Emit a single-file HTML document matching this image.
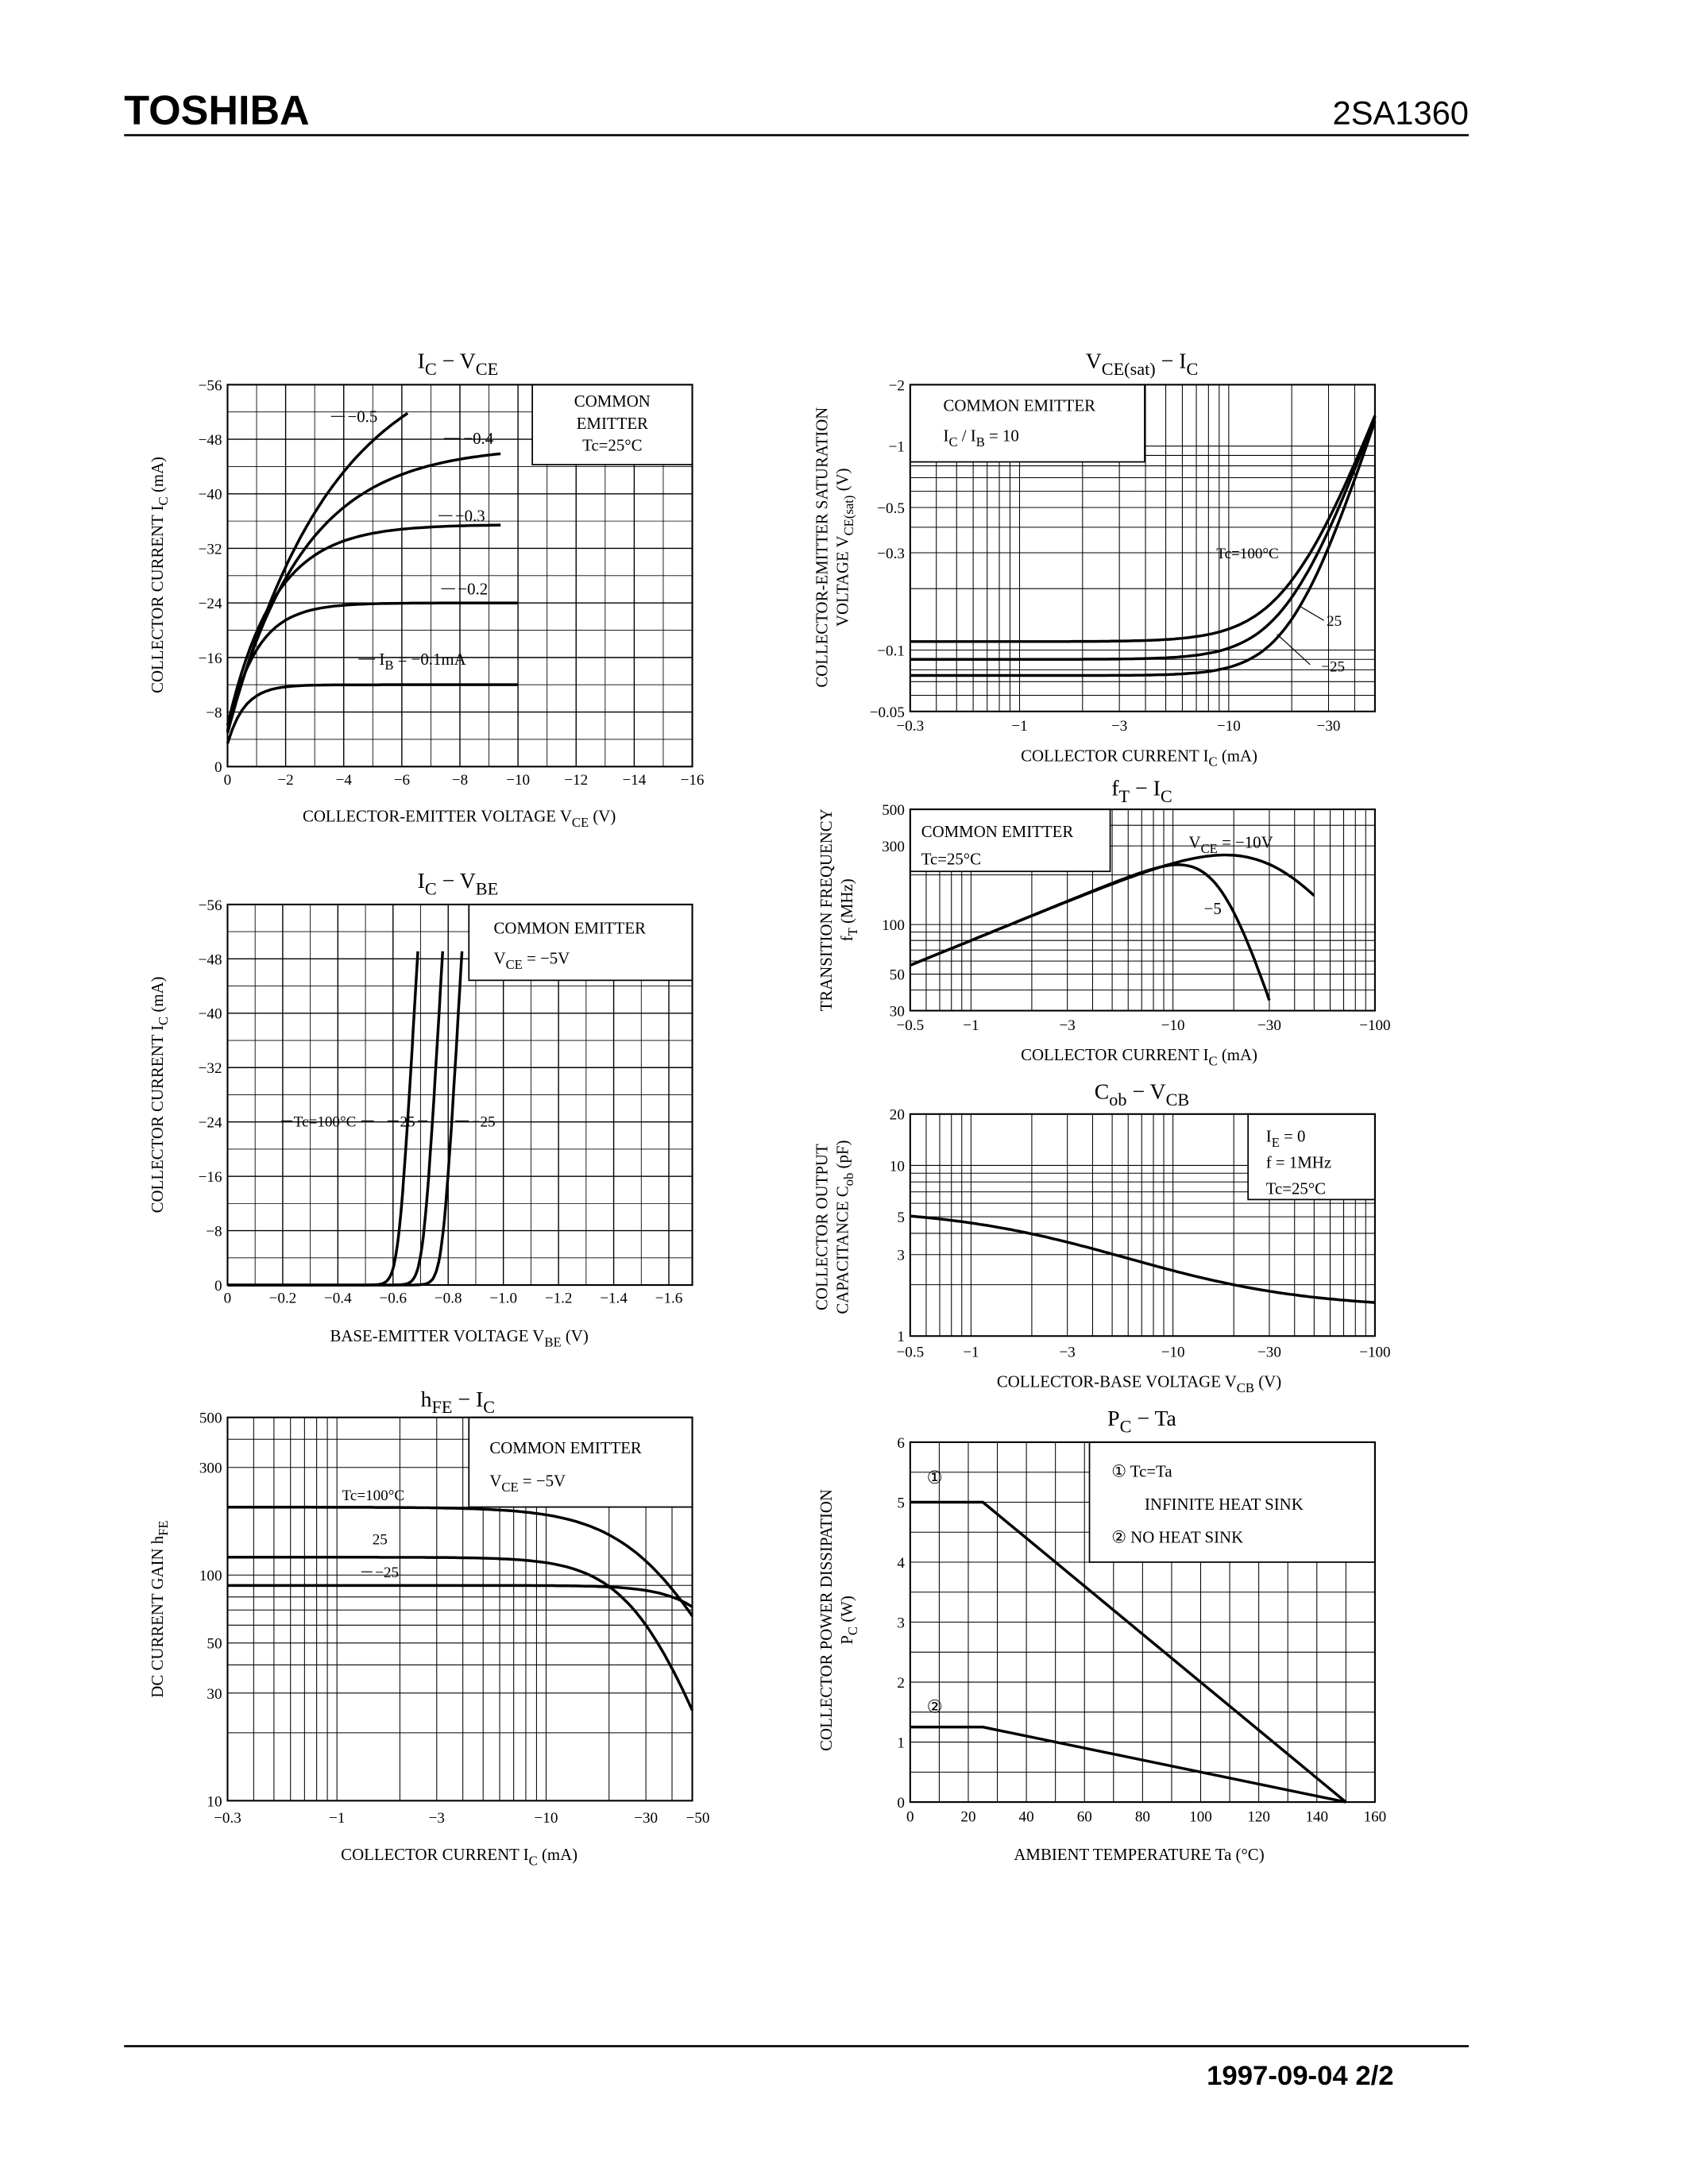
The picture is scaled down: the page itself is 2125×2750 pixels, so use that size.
<!DOCTYPE html>
<html><head><meta charset="utf-8">
<style>
html,body{margin:0;padding:0;background:#fff;}
svg{display:block;}
text{font-family:"Liberation Serif",serif;fill:#000;}
</style></head>
<body>
<svg id="s" width="2125" height="2750" viewBox="0 0 1224 1584" xmlns="http://www.w3.org/2000/svg"></svg>
<script>
const S=document.getElementById('s');
let out='';
function L(x1,y1,x2,y2,w){out+=`<line x1="${x1}" y1="${y1}" x2="${x2}" y2="${y2}" stroke="#000" stroke-width="${w||0.7}"/>`;}
function R(x,y,w,h,sw,fill){out+=`<rect x="${x}" y="${y}" width="${w}" height="${h}" fill="${fill||'none'}" stroke="#000" stroke-width="${sw||1.2}"/>`;}
function fmt(t,fs){return t.replace(/\{([^}]*)\}/g,(m,a)=>`<tspan dy="${fs*0.3}" font-size="${fs*0.8}">${a}</tspan><tspan dy="${-fs*0.3}">&#8203;</tspan>`);}
function T(x,y,t,fs,anchor,rot,extra){fs=fs||11;const tr=rot?` transform="rotate(${rot} ${x} ${y})"`:'';out+=`<text x="${x}" y="${y}" font-size="${fs}" text-anchor="${anchor||'start'}"${tr} ${extra||''}>${fmt(t,fs)}</text>`;}
function lin(v,a,b,p0,p1){return p0+(v-a)/(b-a)*(p1-p0);}
function lg(v,a,b,p0,p1){return p0+Math.log10(v/a)/Math.log10(b/a)*(p1-p0);}
function logLines(a,b){const r=[];for(let d=-3;d<4;d++){for(let k=1;k<10;k++){const v=k*Math.pow(10,d);if(v>=a*0.999&&v<=b*1.001)r.push(v);}}return r;}
function poly(pts,w){out+=`<polyline points="${pts.map(p=>p[0].toFixed(1)+','+p[1].toFixed(1)).join(' ')}" fill="none" stroke="#000" stroke-width="${w||2}"/>`;}
function curve(f,a,b,n,mx,my,log){const p=[];for(let i=0;i<=n;i++){const v=log?a*Math.pow(b/a,i/n):a+(b-a)*i/n;p.push([mx(v),my(f(v))]);}poly(p);}

out+=`<text x="90" y="90" font-size="30" font-weight="bold" style="font-family:'Liberation Sans',sans-serif">TOSHIBA</text>`;
out+=`<text x="1065" y="90" font-size="24" text-anchor="end" style="font-family:'Liberation Sans',sans-serif">2SA1360</text>`;
L(90,98,1065,98,1.5);
L(90,1484,1065,1484,1.5);
out+=`<text x="875" y="1512" font-size="20" font-weight="bold" style="font-family:'Liberation Sans',sans-serif">1997-09-04  2/2</text>`;

{const x0=165,x1=502,y0=279,y1=556;
const mx=v=>lin(v,0,16,x0,x0+337),my=v=>lin(v,0,56,y1,y0);
for(let i=1;i<16;i++)L(mx(i),y0,mx(i),y1,i%2?0.5:0.8);
for(let i=1;i<14;i++)L(x0,my(i*4),x1,my(i*4),i%2?0.5:0.8);
R(386,279,116,58,1,'#fff');
R(x0,y0,x1-x0,y1-y0);
const c=(Is,tau,a,end)=>curve(V=>Is*(1-Math.exp(-(V+a)/tau)),0,end,60,mx,my);
c(12,0.6,0.2,10);c(24,1.0,0.25,10);c(35.5,1.6,0.3,9.4);c(47,2.6,0.3,9.4);c(62,3.6,0.3,6.2);
for(let i=0;i<=8;i++)T(mx(i*2),569,i?'−'+(i*2):'0',11,'middle');
for(let i=0;i<=7;i++)T(161,my(i*8)+4,i?'−'+(i*8):'0',11,'end');
T(444,295,'COMMON',12,'middle');T(444,311,'EMITTER',12,'middle');T(444,327,'Tc=25°C',12,'middle');
T(252,306,'−0.5',12);T(336,322,'−0.4',12);T(330,378,'−0.3',12);T(332,431,'−0.2',12);T(275,482,'I{B} = −0.1mA',12);
L(240,302,250,302);L(322,318,334,318);L(318,374,328,374);L(320,427,330,427);L(260,478,272,478);
T(332,267,'I{C} − V{CE}',16,'middle');
T(333,596,'COLLECTOR-EMITTER VOLTAGE   V{CE}   (V)',12,'middle');
T(118,417,'COLLECTOR CURRENT   I{C}   (mA)',12,'middle',-90);}

{const x0=165,x1=502,y0=656,y1=932;
const mx=v=>lin(v,0,1.6,x0,x0+320),my=v=>lin(v,0,56,y1,y0);
for(let i=1;i<17;i++)L(mx(i*0.1),y0,mx(i*0.1),y1,i%2?0.5:0.8);
for(let i=1;i<14;i++)L(x0,my(i*4),x1,my(i*4),i%2?0.5:0.8);
R(340,656,162,55,1,'#fff');
R(x0,y0,x1-x0,y1-y0);
const c=(Ve)=>{const V0=Ve-0.07;curve(V=>Math.min(50,700*0.015*Math.log(1+Math.exp((V-V0)/0.015))),0,Ve,200,mx,my);};
c(0.69);c(0.78);c(0.85);
for(let i=0;i<=8;i++)T(mx(i*0.2),945,i?'−'+(i*0.2).toFixed(1):'0',11,'middle');
for(let i=0;i<=7;i++)T(161,my(i*8)+4,i?'−'+(i*8):'0',11,'end');
T(358,677,'COMMON EMITTER',12);T(358,699,'V{CE} = −5V',12);
T(213,817,'Tc=100°C',11);T(290,817,'25',11);T(342,817,'−25',11);
L(204,813,212,813);L(262,813,271,813);L(281,813,289,813);L(303,813,310,813);L(330,813,340,813);
T(332,644,'I{C} − V{BE}',16,'middle');
T(333,973,'BASE-EMITTER VOLTAGE   V{BE}   (V)',12,'middle');
T(118,794,'COLLECTOR CURRENT   I{C}   (mA)',12,'middle',-90);}

{const x0=165,x1=502,y0=1028,y1=1306;
const mx=v=>lg(v,0.3,50,x0,x1),my=v=>lg(v,10,500,y1,y0);
logLines(0.3,50).forEach(v=>L(mx(v),y0,mx(v),y1,0.6));
[20,30,40,50,60,70,80,90,100,200,300,400].forEach(v=>L(x0,my(v),x1,my(v),0.6));
R(340,1028,162,65,1,'#fff');
R(x0,y0,x1-x0,y1-y0);
curve(I=>200/(1+Math.pow(I/35,2)),0.3,50,100,mx,my,1);
curve(I=>120/(1+Math.pow(I/30,2.6)),0.3,50,100,mx,my,1);
curve(I=>90/(1+Math.pow(I/80,3)),0.3,50,100,mx,my,1);
[[0.3,'−0.3'],[1,'−1'],[3,'−3'],[10,'−10'],[30,'−30'],[50,'−50']].forEach(a=>T(mx(a[0])+(a[0]==50?4:0),1322,a[1],11,'middle'));
[[10,'10'],[30,'30'],[50,'50'],[100,'100'],[300,'300'],[500,'500']].forEach(a=>T(161,my(a[0])+4,a[1],11,'end'));
T(355,1054,'COMMON EMITTER',12);T(355,1078,'V{CE} = −5V',12);
T(248,1088,'Tc=100°C',11);T(270,1120,'25',11);T(272,1144,'−25',11);L(262,1140,270,1140);
T(332,1020,'h{FE} − I{C}',16,'middle');
T(333,1349,'COLLECTOR CURRENT   I{C}   (mA)',12,'middle');
T(118,1167,'DC CURRENT GAIN   h{FE}',12,'middle',-90);}

{const x0=660,x1=997,y0=279,y1=516;
const mx=v=>lg(v,0.3,50,x0,x1),my=v=>lg(v,0.05,2,y1,y0);
logLines(0.3,50).forEach(v=>L(mx(v),y0,mx(v),y1,0.6));
[0.06,0.07,0.08,0.09,0.1,0.2,0.3,0.4,0.5,0.6,0.7,0.8,0.9,1].forEach(v=>L(x0,my(v),x1,my(v),0.6));
R(660,279,170,56,1,'#fff');
R(x0,y0,x1-x0,y1-y0);
curve(I=>0.11+1.3*Math.pow(I/50,2.7),0.3,50,120,mx,my,1);
curve(I=>0.09+1.3*Math.pow(I/50,2.9),0.3,50,120,mx,my,1);
curve(I=>0.075+1.25*Math.pow(I/50,3.2),0.3,50,120,mx,my,1);
[[0.3,'−0.3'],[1,'−1'],[3,'−3'],[10,'−10'],[30,'−30']].forEach(a=>T(mx(a[0]),530,a[1],11,'middle'));
[[0.05,'−0.05'],[0.1,'−0.1'],[0.3,'−0.3'],[0.5,'−0.5'],[1,'−1'],[2,'−2']].forEach(a=>T(656,my(a[0])+4,a[1],11,'end'));
T(684,298,'COMMON EMITTER',12);T(684,320,'I{C} / I{B} = 10',12);
T(882,405,'Tc=100°C',11);T(962,454,'25',11);T(958,487,'−25',11);
L(943,440,960,450);L(926,460,950,482);
T(828,267,'V{CE(sat)} − I{C}',16,'middle');
T(826,552,'COLLECTOR CURRENT   I{C}   (mA)',12,'middle');
T(600,397,'COLLECTOR-EMITTER SATURATION',12,'middle',-90);
T(615,397,'VOLTAGE   V{CE(sat)}   (V)',12,'middle',-90);}

{const x0=660,x1=997,y0=587,y1=733;
const mx=v=>lg(v,0.5,100,x0,x1),my=v=>lg(v,30,500,y1,y0);
logLines(0.5,100).forEach(v=>L(mx(v),y0,mx(v),y1,0.6));
[40,50,60,70,80,90,100,200,300,400].forEach(v=>L(x0,my(v),x1,my(v),0.6));
R(660,587,145,45,1,'#fff');
R(x0,y0,x1-x0,y1-y0);
curve(I=>80*Math.sqrt(I)/(1+Math.pow(I/31.6,2.23)),0.5,50,120,mx,my,1);
curve(I=>80*Math.sqrt(I)/(1+Math.pow(I/17,4.32)),0.5,30,120,mx,my,1);
[[0.5,'−0.5'],[1,'−1'],[3,'−3'],[10,'−10'],[30,'−30'],[100,'−100']].forEach(a=>T(mx(a[0]),747,a[1],11,'middle'));
[[30,'30'],[50,'50'],[100,'100'],[300,'300'],[500,'500']].forEach(a=>T(656,my(a[0])+4,a[1],11,'end'));
T(668,607,'COMMON EMITTER',12);T(668,627,'Tc=25°C',12);
T(862,615,'V{CE} = −10V',12);T(873,663,'−5',12);
T(828,577,'f{T} − I{C}',16,'middle');
T(826,769,'COLLECTOR CURRENT   I{C}   (mA)',12,'middle');
T(603,660,'TRANSITION FREQUENCY',12,'middle',-90);
T(618,660,'f{T}   (MHz)',12,'middle',-90);}

{const x0=660,x1=997,y0=808,y1=969;
const mx=v=>lg(v,0.5,100,x0,x1),my=v=>lg(v,1,20,y1,y0);
logLines(0.5,100).forEach(v=>L(mx(v),y0,mx(v),y1,0.6));
[2,3,4,5,6,7,8,9,10].forEach(v=>L(x0,my(v),x1,my(v),0.6));
R(905,808,92,62,1,'#fff');
R(x0,y0,x1-x0,y1-y0);
curve(V=>1.45+4.2/(1+V/3),0.5,100,120,mx,my,1);
[[0.5,'−0.5'],[1,'−1'],[3,'−3'],[10,'−10'],[30,'−30'],[100,'−100']].forEach(a=>T(mx(a[0]),984,a[1],11,'middle'));
[[1,'1'],[3,'3'],[5,'5'],[10,'10'],[20,'20']].forEach(a=>T(656,my(a[0])+4,a[1],11,'end'));
T(918,828,'I{E} = 0',12);T(918,847,'f = 1MHz',12);T(918,866,'Tc=25°C',12);
T(828,797,'C{ob} − V{CB}',16,'middle');
T(826,1006,'COLLECTOR-BASE VOLTAGE   V{CB}   (V)',12,'middle');
T(600,890,'COLLECTOR OUTPUT',12,'middle',-90);
T(615,890,'CAPACITANCE   C{ob}   (pF)',12,'middle',-90);}

{const x0=660,x1=997,y0=1046,y1=1307;
const mx=v=>lin(v,0,160,x0,x1),my=v=>lin(v,0,6,y1,y0);
for(let i=1;i<16;i++)L(mx(i*10),y0,mx(i*10),y1,0.6);
for(let i=1;i<12;i++)L(x0,my(i*0.5),x1,my(i*0.5),0.6);
R(790,1046,207,87,1,'#fff');
R(x0,y0,x1-x0,y1-y0);
poly([[mx(0),my(5)],[mx(25),my(5)],[mx(150),my(0)]]);
poly([[mx(0),my(1.25)],[mx(25),my(1.25)],[mx(150),my(0)]]);
for(let i=0;i<=8;i++)T(mx(i*20),1321,''+(i*20),11,'middle');
for(let i=0;i<=6;i++)T(656,my(i)+4,''+i,11,'end');
T(806,1071,'①   Tc=Ta',12);T(830,1095,'INFINITE HEAT SINK',12);T(806,1119,'②   NO HEAT SINK',12);
T(672,1076,'①',13);T(672,1242,'②',13);
T(828,1034,'P{C} − Ta',16,'middle');
T(826,1349,'AMBIENT TEMPERATURE   Ta   (°C)',12,'middle');
T(603,1175,'COLLECTOR POWER DISSIPATION',12,'middle',-90);
T(618,1175,'P{C}   (W)',12,'middle',-90);}

S.innerHTML=out;
</script>
</body></html>
